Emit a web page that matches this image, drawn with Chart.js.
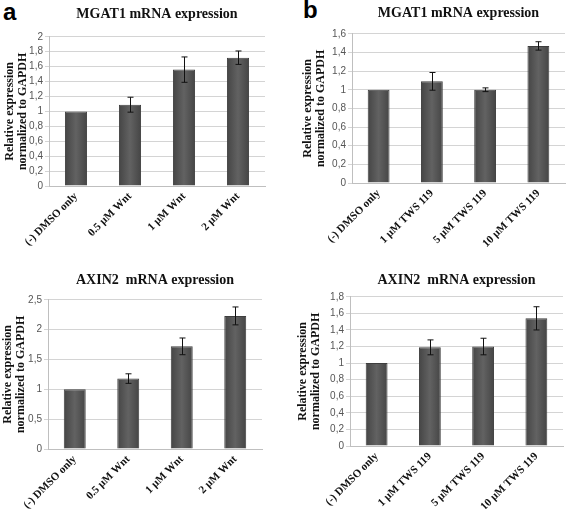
<!DOCTYPE html>
<html>
<head>
<meta charset="utf-8">
<script src="https://cdn.jsdelivr.net/npm/chart.js@4.4.1/dist/chart.umd.min.js"></script>
<style>
  html, body { margin: 0; padding: 0; background: #fff; }
  #app { position: relative; width: 567px; height: 509px; overflow: hidden; }
  .panel { position: absolute; }
  .letter { position: absolute; font: bold 24px "Liberation Sans", Arial, sans-serif; line-height: 24px; color: #000; }
</style>
</head>
<body>
<div id="app">
  <div class="letter" style="left:3px;top:0px">a</div>
  <div class="letter" style="left:303px;top:-2px">b</div>
  <div class="panel" style="left:0;top:0;width:283px;height:250px"><canvas id="c1"></canvas></div>
  <div class="panel" style="left:285px;top:0;width:282px;height:250px"><canvas id="c2"></canvas></div>
  <div class="panel" style="left:0;top:255px;width:283px;height:254px"><canvas id="c3"></canvas></div>
  <div class="panel" style="left:285px;top:255px;width:282px;height:254px"><canvas id="c4"></canvas></div>
</div>
<script>
const wntLabels = ["(-) DMSO only", "0.5 μM Wnt", "1 μM Wnt", "2 μM Wnt"];
const twsLabels = ["(-) DMSO only", "1 μM TWS 119", "5 μM TWS 119", "10 μM TWS 119"];

const mgat1Wnt = [1.0, 1.09, 1.56, 1.72];
const mgat1WntErr = [0, 0.1, 0.17, 0.09];
const mgat1Tws = [1.0, 1.09, 1.0, 1.47];
const mgat1TwsErr = [0, 0.095, 0.02, 0.045];
const axin2Wnt = [1.0, 1.18, 1.72, 2.23];
const axin2WntErr = [0, 0.08, 0.14, 0.15];
const axin2Tws = [1.0, 1.19, 1.2, 1.54];
const axin2TwsErr = [0, 0.09, 0.1, 0.14];

const serif = '"Liberation Serif", "Times New Roman", serif';
const sans = '"Liberation Sans", Arial, sans-serif';
const BAR_PCT = 0.41;

// error bars drawn through the y scale
const errorBars = {
  id: "errorBars",
  afterDatasetsDraw(chart) {
    const errs = chart.options.plugins.errorBars.errs;
    const vals = chart.data.datasets[0].data;
    const meta = chart.getDatasetMeta(0);
    const y = chart.scales.y;
    const ctx = chart.ctx;
    ctx.save();
    ctx.strokeStyle = "#111";
    ctx.lineWidth = 1;
    meta.data.forEach((bar, i) => {
      if (!errs[i]) return;
      const x = Math.round(bar.x) + 0.5;
      const top = y.getPixelForValue(vals[i] + errs[i]);
      const bot = y.getPixelForValue(vals[i] - errs[i]);
      ctx.beginPath();
      ctx.moveTo(x, top);
      ctx.lineTo(x, bot);
      ctx.moveTo(x - 3, top);
      ctx.lineTo(x + 3, top);
      ctx.moveTo(x - 3, bot);
      ctx.lineTo(x + 3, bot);
      ctx.stroke();
    });
    ctx.restore();
  },
};

// cylinder-ish shading, like the excel bars
function barFill(c) {
  const chart = c.chart;
  const xs = chart.scales.x;
  if (!xs || !chart.chartArea || c.dataIndex === undefined) return "#5a5a5a";
  const cx = xs.getPixelForValue(c.dataIndex);
  const half = (xs.width / chart.data.labels.length) * BAR_PCT / 2;
  const g = chart.ctx.createLinearGradient(cx - half, 0, cx + half, 0);
  g.addColorStop(0, "#454545");
  g.addColorStop(0.5, "#626262");
  g.addColorStop(1, "#454545");
  return g;
}

const fmt = (v) => String(Number(v.toFixed(1))).replace(".", ",");

function makeChart(id, opts) {
  new Chart(document.getElementById(id), {
    type: "bar",
    data: {
      labels: opts.labels,
      datasets: [
        {
          data: opts.values,
          backgroundColor: barFill,
          borderColor: "#3e3e3e",
          borderWidth: 1,
          barPercentage: BAR_PCT,
          categoryPercentage: 1,
        },
      ],
    },
    options: {
      responsive: true,
      maintainAspectRatio: false,
      animation: false,
      layout: { padding: { left: 0, right: opts.padRight, top: 0, bottom: 0 } },
      plugins: {
        legend: { display: false },
        tooltip: { enabled: false },
        title: {
          display: true,
          text: opts.title,
          fullSize: false,
          color: "#111",
          font: { family: serif, size: 14, weight: "bold" },
          padding: { top: opts.titleTop, bottom: opts.titleBottom },
        },
        errorBars: { errs: opts.errs },
      },
      scales: {
        x: {
          afterFit: (s) => { s.height = opts.xHeight; },
          grid: { display: false, drawTicks: false },
          border: { display: true, color: "#bfbfbf" },
          ticks: {
            autoSkip: false,
            minRotation: 45,
            maxRotation: 45,
            padding: 4,
            color: "#111",
            font: { family: serif, size: 11, weight: "bold" },
          },
        },
        y: {
          min: 0,
          max: opts.max,
          afterFit: (s) => { s.width = opts.yWidth; },
          grid: { color: "#d4d4d4", lineWidth: 1, tickLength: 4 },
          border: { display: true, color: "#bfbfbf" },
          ticks: {
            autoSkip: false,
            stepSize: opts.step,
            padding: 2,
            color: "#555",
            font: { family: sans, size: 10 },
            callback: (v) => fmt(v),
          },
          title: {
            display: true,
            text: ["Relative expression", "normalized to GAPDH"],
            color: "#111",
            font: { family: serif, size: 12, weight: "bold", lineHeight: 1.08 },
            padding: { top: opts.yTitlePad, bottom: 0 },
          },
        },
      },
    },
    plugins: [errorBars],
  });
}

makeChart("c1", {
  labels: wntLabels, values: mgat1Wnt, errs: mgat1WntErr,
  title: "MGAT1 mRNA expression", max: 2, step: 0.2,
  yWidth: 49, padRight: 18, xHeight: 64, titleTop: 6, titleBottom: 14, yTitlePad: 3,
});
makeChart("c2", {
  labels: twsLabels, values: mgat1Tws, errs: mgat1TwsErr,
  title: "MGAT1 mRNA expression", max: 1.6, step: 0.2,
  yWidth: 67, padRight: 2, xHeight: 67, titleTop: 5, titleBottom: 12, yTitlePad: 16,
});
makeChart("c3", {
  labels: wntLabels, values: axin2Wnt, errs: axin2WntErr,
  title: "AXIN2  mRNA expression", max: 2.5, step: 0.5,
  yWidth: 48, padRight: 21, xHeight: 60, titleTop: 17, titleBottom: 11, yTitlePad: 1,
});
makeChart("c4", {
  labels: twsLabels, values: axin2Tws, errs: axin2TwsErr,
  title: "AXIN2  mRNA expression", max: 1.8, step: 0.2,
  yWidth: 65, padRight: 4, xHeight: 63, titleTop: 17, titleBottom: 8, yTitlePad: 11,
});
</script>
</body>
</html>
